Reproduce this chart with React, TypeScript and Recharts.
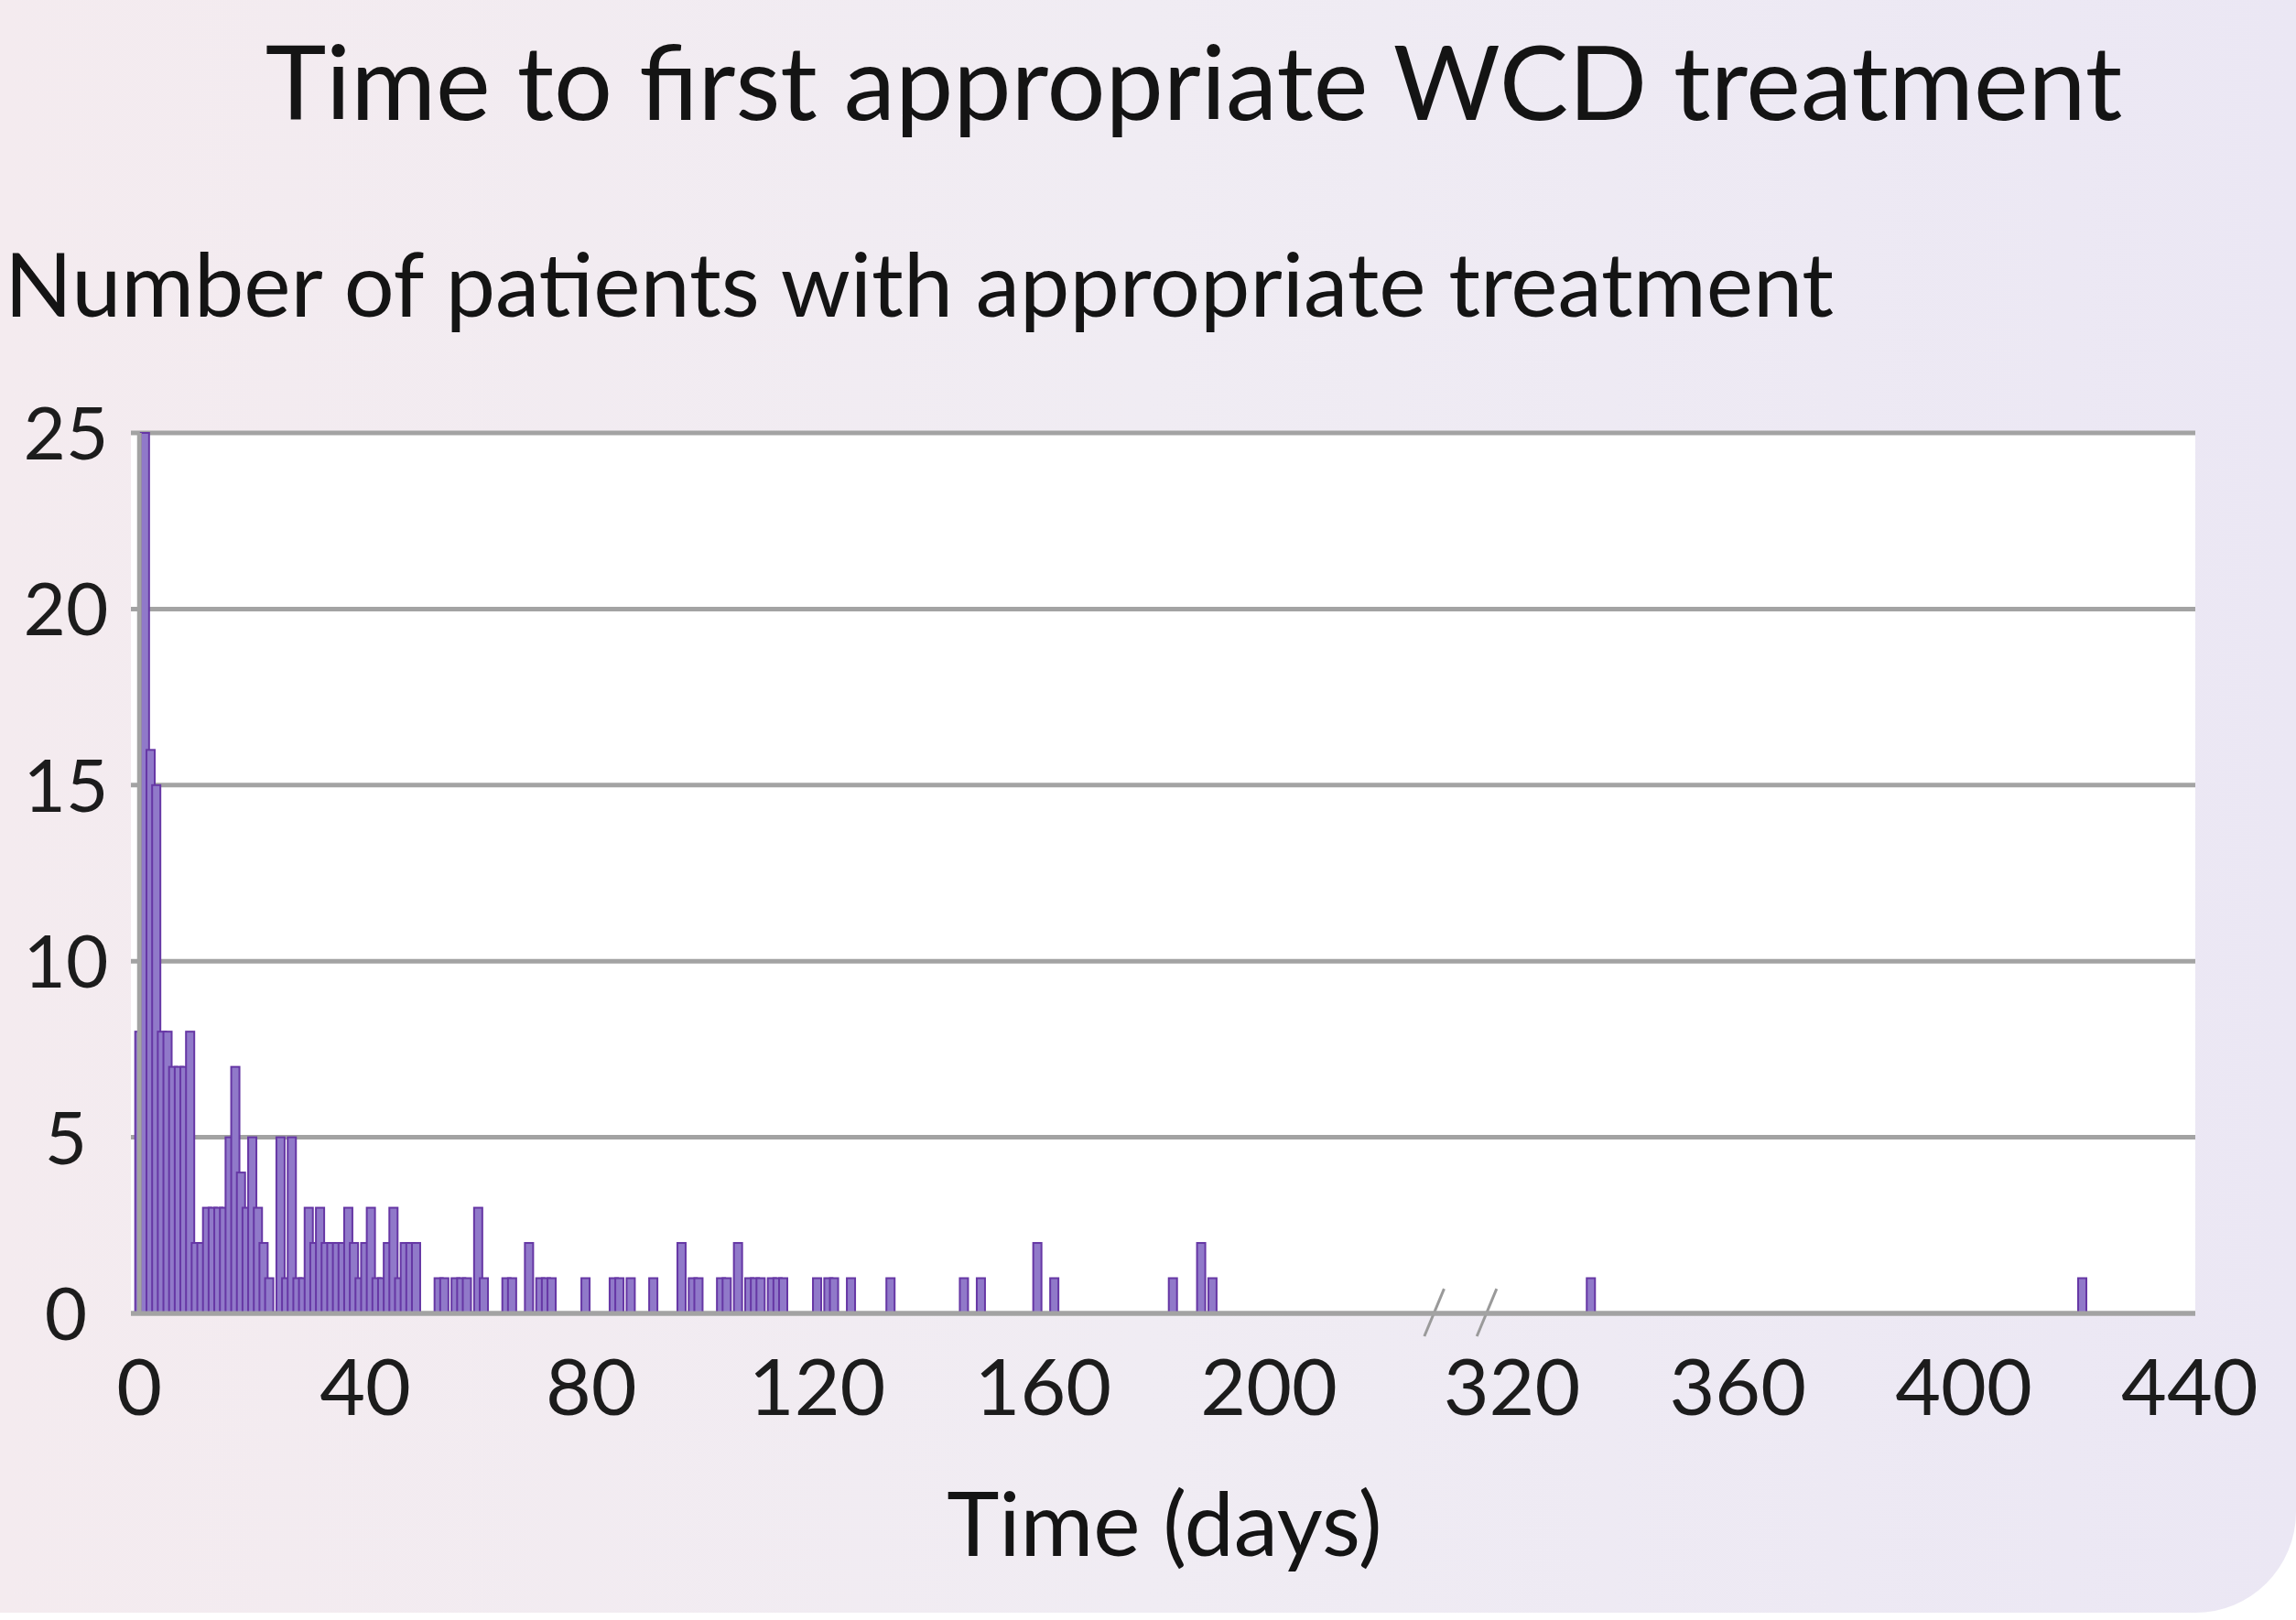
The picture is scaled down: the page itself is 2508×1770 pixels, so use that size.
import { BarChart, Bar, XAxis, YAxis, CartesianGrid, ReferenceLine } from 'recharts';

// days since WCD start, and patients with first appropriate treatment on that day
const days = [
  0, 1, 2, 3, 4, 5, 6, 7, 8, 9, 10, 11, 12, 13, 14, 15, 16, 17, 18, 19,
  20, 21, 22, 23, 25, 26, 27, 28, 29, 30, 31, 32, 33, 34, 35, 36, 37, 38, 39,
  40, 41, 42, 43, 44, 45, 46, 47, 48, 49,
  53, 54, 56, 57, 58, 60, 61, 65, 66, 69, 71, 72, 73, 79, 84, 85, 87, 91,
  96, 98, 99, 103, 104, 106, 108, 109, 110, 112, 113, 114,
  120, 122, 123, 126, 133, 146, 149, 159, 162, 183, 188, 190, 334, 421,
];
const patients = [
  8, 25, 16, 15, 8, 8, 7, 7, 7, 8, 2, 2, 3, 3, 3, 3, 5, 7, 4, 3,
  5, 3, 2, 1, 5, 1, 5, 1, 1, 3, 2, 3, 2, 2, 2, 2, 3, 2, 1,
  2, 3, 1, 1, 2, 3, 1, 2, 2, 2,
  1, 1, 1, 1, 1, 3, 1, 1, 1, 2, 1, 1, 1, 1, 1, 1, 1, 1,
  2, 1, 1, 1, 1, 2, 1, 1, 1, 1, 1, 1,
  1, 1, 1, 1, 1, 1, 1, 2, 1, 1, 2, 1, 1, 1,
];

const xTickDays = [0, 40, 80, 120, 160, 200, 320, 360, 400, 440];
const yTicks = [0, 5, 10, 15, 20, 25];

// axis is broken between ~220 and 320 days
const BREAK_AT = 250;
const BREAK_SHIFT = 77;
const toPos = (d: number) => (d > BREAK_AT ? d - BREAK_SHIFT : d);

const data = days.map((d, i) => ({ day: d, pos: toPos(d), patients: patients[i] }));

const FONT = 'Lato, "Open Sans", sans-serif';
const PLOT_BOTTOM = 1435;
const GRID = '#a3a3a3';
const BAR_W = 9;

const XTick = ({ x, payload }: any) => {
  const d = xTickDays.find((t) => toPos(t) === payload.value);
  return (
    <text x={x} y={PLOT_BOTTOM + 111} textAnchor="middle" fontSize={86} fontFamily={FONT} fill="#1c1c1c">
      {d}
    </text>
  );
};

const YTick = ({ y, payload }: any) => (
  <text x={72} y={y + 29} textAnchor="middle" fontSize={80} fontFamily={FONT} fill="#1c1c1c">
    {payload.value}
  </text>
);

// bars in the original are a bit wider than one day, so they overlap
const WideBar = ({ x, y, width, height }: any) => {
  if (!height) return null;
  const cx = x + width / 2;
  return (
    <rect
      x={cx - BAR_W / 2}
      y={y}
      width={BAR_W}
      height={height}
      fill="#9079c9"
      stroke="#6637a5"
      strokeWidth={2}
    />
  );
};

export default function App() {
  return (
    <div style={{ position: 'absolute', left: 0, top: 0, width: 2508, height: 1770, background: '#fff', overflow: 'hidden' }}>
      <div
        style={{
          position: 'absolute',
          left: 0,
          top: 0,
          width: 2508,
          height: 1762,
          background: 'linear-gradient(90deg, #f4ebef 0%, #f0ecf3 50%, #ebe7f4 100%)',
          borderBottomRightRadius: 110,
        }}
      />
      <BarChart
        width={2508}
        height={1770}
        data={data}
        margin={{ top: 473, right: 110, bottom: 0, left: 0 }}
        style={{ position: 'absolute', left: 0, top: 0 }}
      >
        <CartesianGrid horizontal vertical={false} fill="#fff" stroke={GRID} strokeWidth={5} />
        <XAxis
          type="number"
          dataKey="pos"
          domain={[-1.5, 364]}
          allowDataOverflow
          ticks={xTickDays.map(toPos)}
          interval={0}
          height={335}
          tickLine={false}
          axisLine={{ stroke: GRID, strokeWidth: 5 }}
          tick={<XTick />}
        />
        <YAxis
          type="number"
          domain={[0, 25]}
          ticks={yTicks}
          interval={0}
          width={143}
          tickLine={false}
          axisLine={false}
          tick={<YTick />}
        />
        <ReferenceLine x={0} stroke={GRID} strokeWidth={5} />
        <Bar
          dataKey="patients"
          barSize={6}
          fill="#9079c9"
          shape={<WideBar />}
          isAnimationActive={false}
        />
        <ReferenceLine
          segment={[{ x: 227.5, y: -0.65 }, { x: 231, y: 0.7 }]}
          stroke="#9a9a9a"
          strokeWidth={3}
          ifOverflow="visible"
        />
        <ReferenceLine
          segment={[{ x: 236.8, y: -0.65 }, { x: 240.3, y: 0.7 }]}
          stroke="#9a9a9a"
          strokeWidth={3}
          ifOverflow="visible"
        />
      </BarChart>
      <svg width={2508} height={1770} style={{ position: 'absolute', left: 0, top: 0, pointerEvents: 'none' }}>
        <text x={1304} y={131} textAnchor="middle" fontSize={113} fontFamily={FONT} fill="#141414">
          Time to first appropriate WCD treatment
        </text>
        <text x={5} y={346} textAnchor="start" fontSize={97} fontFamily={FONT} fill="#141414">
          Number of patients with appropriate treatment
        </text>
        <text x={1272} y={1700} textAnchor="middle" fontSize={97} fontFamily={FONT} fill="#141414">
          Time (days)
        </text>
      </svg>
    </div>
  );
}
